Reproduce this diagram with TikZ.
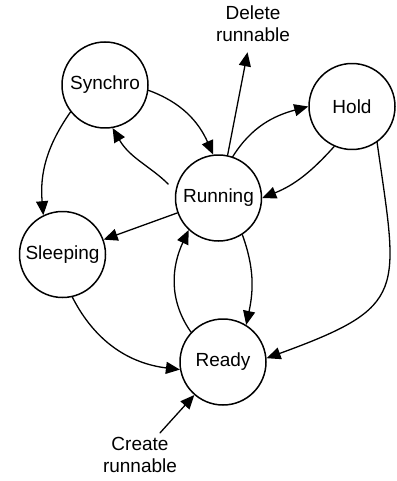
\documentclass[tikz,border=0pt]{standalone}
\usepackage{fontspec}
\setmainfont{Liberation Sans}
\usetikzlibrary{arrows.meta}

\begin{document}
\begin{tikzpicture}[
  x=0.5pt, y=0.5pt,
  >={Triangle[length=7pt,width=6pt]},
  line cap=round,
  line join=round,
  every node/.style={font=\fontsize{9.5}{11}\selectfont},
  stnode/.style={draw, circle, line width=0.75pt, minimum size=43pt, inner sep=0pt},
  trans/.style={->, line width=0.65pt}
]
  \useasboundingbox (0,0) rectangle (396,-481);

  % States
  \node[stnode] (synchro)  at (105  , -85  ) {Synchro};
  \node[stnode] (hold)     at (352  ,-106.5) {Hold};
  \node[stnode] (running)  at (218.5,-198  ) {Running};
  \node[stnode] (sleeping) at ( 62.5,-254.5) {Sleeping};
  \node[stnode] (ready)    at (223  ,-362  ) {Ready};

  % Outside texts
  \node[align=center, inner sep=2pt] (delete) at (253, -24) {Delete\\runnable};
  \node[align=center, inner sep=2pt] (create) at (140,-455) {Create\\runnable};

  % Transitions
  \draw[trans] (synchro.-7) to[out=-20, in=114] (running.97);
  \draw[trans, shorten <=5pt] (running.171) to[out=135, in=-60] (synchro.-80);
  \draw[trans] (synchro.218) to[out=235, in=95] (sleeping.116);
  \draw[trans] (running) -- (sleeping);
  \draw[trans] (running.71) to[out=58, in=195] (hold.180);
  \draw[trans] (hold.246) to[out=228, in=22] (running.0);
  \draw[trans] (hold.-55) to[out=-82, in=20, looseness=1.6] (ready.5);
  \draw[trans] (running.-57) to[out=-70, in=78] (ready.58);
  \draw[trans] (ready.137) to[out=125, in=245] (running.227);
  \draw[trans] (sleeping.-77) to[out=-63, in=173] (ready.190);

  % Create / delete
  \draw[trans, shorten >=3pt] (running.78) -- (delete);
  \draw[trans] (create) -- (ready.229);
\end{tikzpicture}
\end{document}
